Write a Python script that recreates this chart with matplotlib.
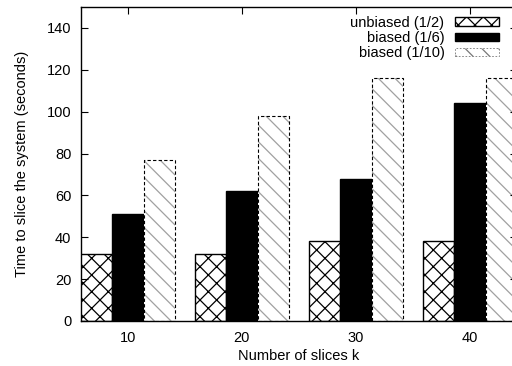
import matplotlib
matplotlib.use("Agg")
import matplotlib.pyplot as plt
import numpy as np

# values
slices = ["10", "20", "30", "40"]
unbiased_half = [32, 32, 38, 38]
biased_sixth = [51, 62, 68, 104]
biased_tenth = [77, 98, 116, 116]

plt.rcParams["font.family"] = ["Liberation Sans", "DejaVu Sans"]
plt.rcParams["font.size"] = 10.5
plt.rcParams["hatch.linewidth"] = 0.9

fig = plt.figure(figsize=(5.12, 3.66), dpi=100)
# right edge of the axes sits just past the picture, as in the reference
ax = fig.add_axes([81 / 512, 45 / 366, 436 / 512, 314 / 366])

x = np.arange(len(slices))
w = 0.277

ax.bar(x - w, unbiased_half, w, color="white", edgecolor="black",
       hatch="xx", linewidth=1.0, label="unbiased (1/2)")
ax.bar(x, biased_sixth, w, color="black", edgecolor="black",
       linewidth=1.0, label="biased (1/6)")
# dotted-looking diagonal fill with a dashed outline
ax.bar(x + w, biased_tenth, w, color="white", edgecolor="#a0a0a0",
       hatch="\\\\", linewidth=0)
ax.bar(x + w, biased_tenth, w, fill=False, edgecolor="black",
       linewidth=0.8, linestyle=(0, (3, 2)))
# legend proxy for the last series
proxy = plt.Rectangle((0, 0), 1, 1, facecolor="white", edgecolor="#777777",
                      hatch="\\\\", linewidth=0.6, linestyle=(0, (2, 2)),
                      label="biased (1/10)")

ax.set_xlim(-0.41, 3.41)
ax.set_ylim(0, 150)
ax.set_xticks(x)
ax.set_xticklabels(slices)
ax.set_yticks(range(0, 141, 20))
ax.tick_params(direction="in", top=True, right=True, length=5, width=0.8,
               labelsize=10.5, pad=7)
for s in ax.spines.values():
    s.set_linewidth(1.0)

ax.set_xlabel("Number of slices k", labelpad=3)
ax.set_ylabel("Time to slice the system (seconds)", labelpad=13)

handles, labels = ax.get_legend_handles_labels()
handles.append(proxy)
labels.append("biased (1/10)")
leg = ax.legend(handles, labels, loc="upper right", frameon=False,
                markerfirst=False, handlelength=3.0, handleheight=0.5,
                labelspacing=0.08, handletextpad=0.75, fontsize=10.5,
                borderpad=0, borderaxespad=0,
                bbox_to_anchor=(0.959, 0.972))

fig.savefig("out.png", dpi=100, facecolor="white")
